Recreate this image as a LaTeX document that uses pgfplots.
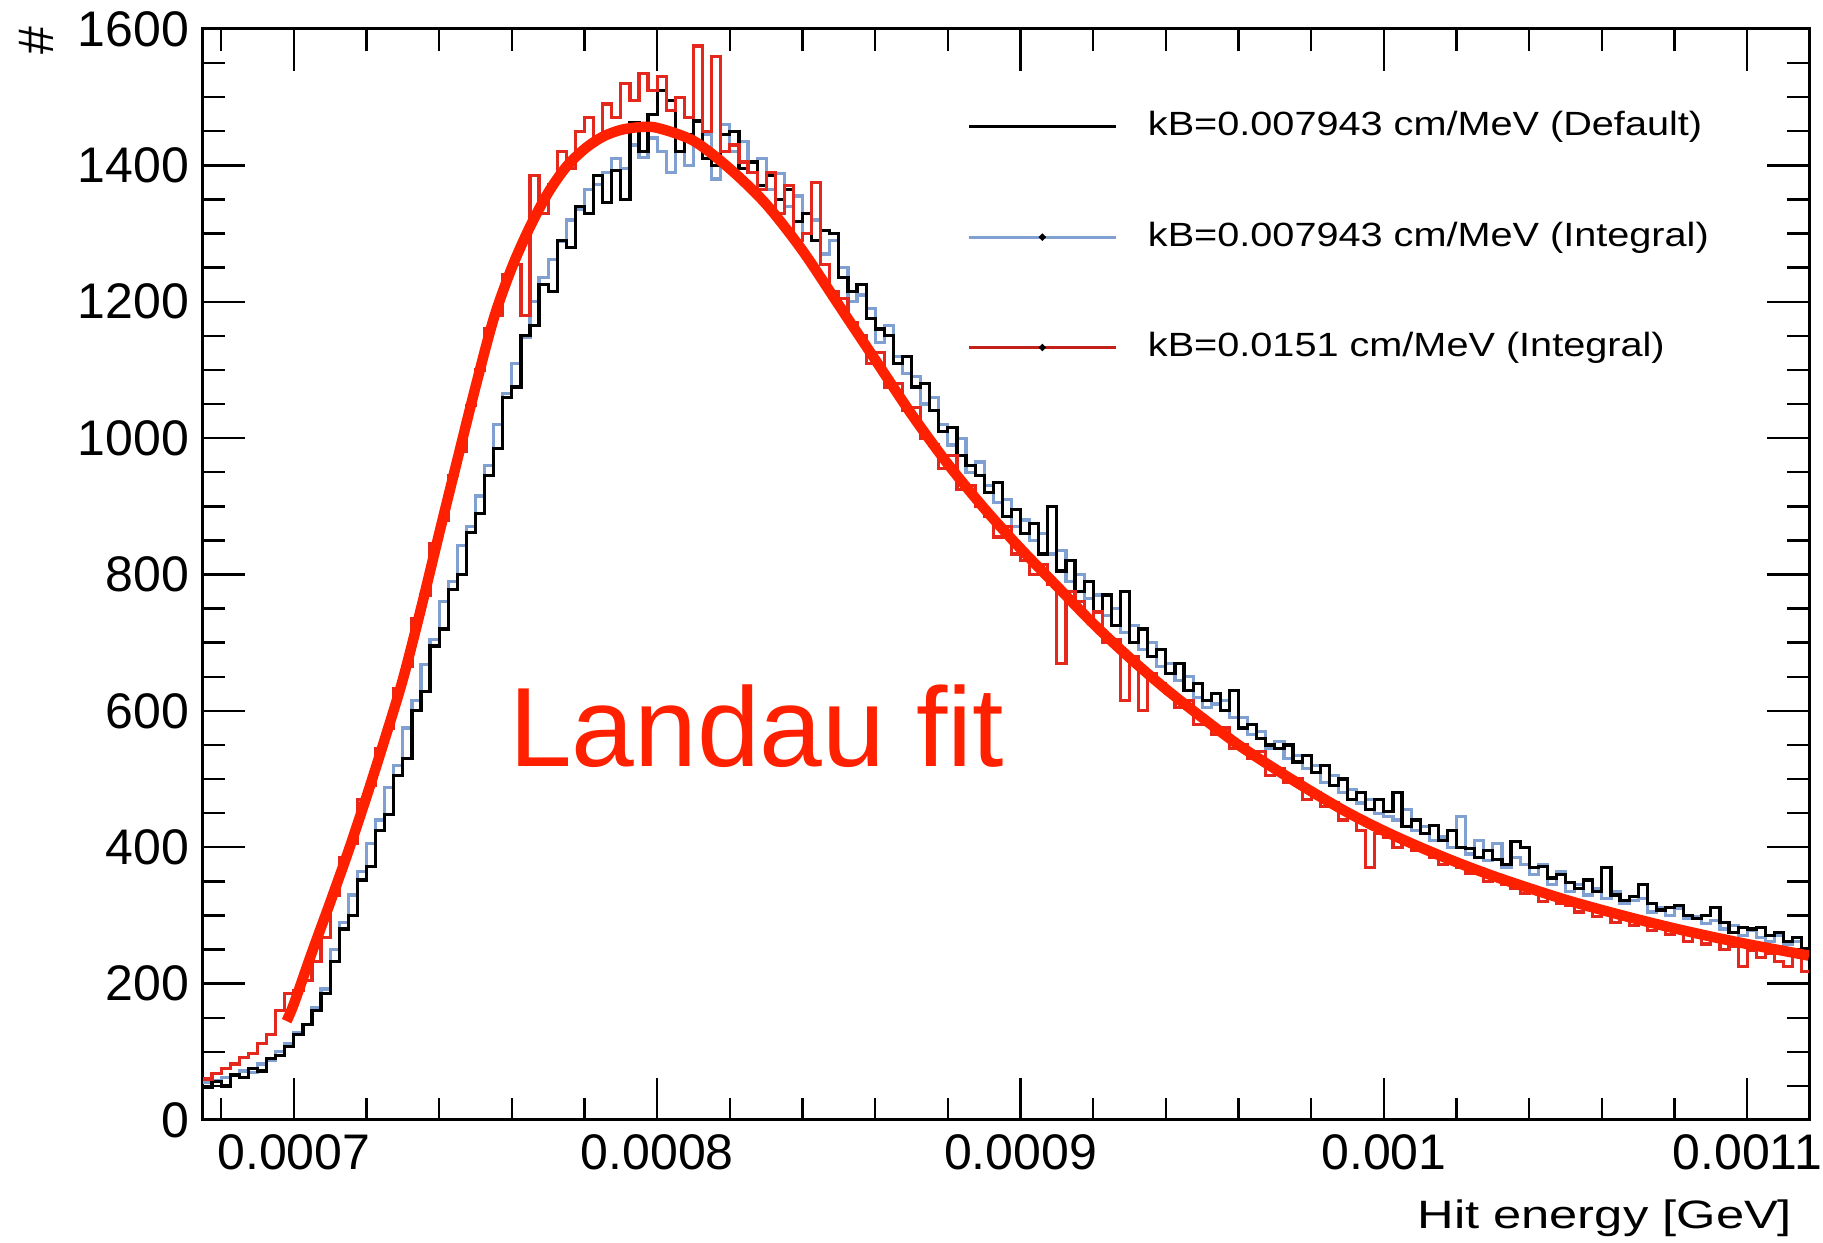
\documentclass[border=0pt]{standalone}
\usepackage{fontspec}
\setmainfont{Liberation Sans}
\usepackage{pgfplots}
\pgfplotsset{compat=1.18}
\usepackage{pgfplotstable}
\definecolor{blueh}{RGB}{128,160,210}
\definecolor{redh}{RGB}{228,40,30}
\definecolor{fitred}{RGB}{255,32,0}
\pgfplotsset{
  linelegend/.style={legend image code/.code={\draw[##1] (0pt,0pt) -- (36.6pt,0pt);}},
  dotlegend/.style={legend image code/.code={\draw[##1] (0pt,0pt) -- (36.6pt,0pt); \fill[black] (18.3pt,0pt) circle (0.45pt);}},
}

% e = hit energy in units of 1e-6 GeV (left bin edge); k = Default, b = Integral kB=0.007943, r = Integral kB=0.0151
\pgfplotstableread{
e k b r
675 48 55 60
677.5 56 58 68
680 50 62 75
682.5 66 65 82
685 62 72 92
687.5 75 70 98
690 72 82 112
692.5 90 88 125
695 95 100 160
697.5 108 112 185
700 125 128 190
702.5 140 140 205
705 160 165 232
707.5 185 192 268
710 232 250 330
712.5 280 290 385
715 300 330 405
717.5 352 365 470
720 372 405 490
722.5 425 440 545
725 448 488 575
727.5 505 520 632
730 530 575 665
732.5 600 615 735
735 628 668 770
737.5 695 705 845
740 720 760 880
742.5 778 790 945
745 800 842 980
747.5 862 870 1048
750 890 915 1100
752.5 945 960 1160
755 985 1020 1180
757.5 1060 1065 1240
760 1075 1110 1255
762.5 1150 1148 1180
765 1165 1200 1385
767.5 1225 1235 1330
770 1215 1262 1372
772.5 1290 1288 1420
775 1280 1320 1395
777.5 1340 1335 1450
780 1330 1365 1470
782.5 1385 1372 1440
785 1345 1390 1490
787.5 1392 1410 1470
790 1350 1395 1520
792.5 1462 1430 1495
795 1420 1412 1535
797.5 1475 1440 1510
800 1510 1420 1530
802.5 1495 1390 1480
805 1420 1445 1500
807.5 1445 1400 1470
810 1465 1430 1575
812.5 1410 1445 1450
815 1400 1380 1560
817.5 1445 1460 1420
820 1450 1420 1430
822.5 1395 1435 1405
825 1405 1390 1390
827.5 1370 1410 1365
830 1385 1365 1390
832.5 1350 1388 1330
835 1365 1340 1370
837.5 1318 1355 1290
840 1330 1300 1300
842.5 1290 1320 1375
845 1305 1270 1255
847.5 1300 1290 1215
850 1235 1250 1205
852.5 1215 1200 1170
855 1225 1210 1150
857.5 1175 1190 1110
860 1160 1140 1125
862.5 1150 1165 1075
865 1110 1120 1080
867.5 1120 1095 1040
870 1075 1090 1045
872.5 1080 1050 1000
875 1040 1060 990
877.5 1010 1020 955
880 1015 990 975
882.5 975 1000 925
885 960 950 930
887.5 945 965 900
890 920 930 885
892.5 935 905 855
895 885 910 870
897.5 895 870 830
900 860 880 820
902.5 875 850 800
905 830 860 815
907.5 900 830 785
910 805 835 670
912.5 820 790 775
915 775 800 760
917.5 790 765 735
920 745 770 745
922.5 770 740 700
925 725 750 705
927.5 775 715 615
930 700 725 680
932.5 720 690 600
935 680 700 655
937.5 690 665 640
940 655 670 625
942.5 670 645 605
945 630 650 615
947.5 640 620 580
950 615 605 580
952.5 625 610 565
955 600 615 575
957.5 630 590 545
960 575 590 550
962.5 580 565 530
965 560 570 540
967.5 550 545 505
970 545 555 515
972.5 550 530 495
975 525 535 500
977.5 535 515 470
980 510 520 480
982.5 520 495 460
985 490 505 465
987.5 500 480 440
990 470 485 450
992.5 480 465 425
995 455 470 370
997.5 470 450 420
1000 452 445 415
1002.5 480 440 400
1005 430 455 410
1007.5 440 425 395
1010 420 430 400
1012.5 432 410 385
1015 410 415 375
1017.5 425 400 380
1020 400 445 370
1022.5 398 390 362
1025 385 410 368
1027.5 395 380 350
1030 382 405 355
1032.5 375 370 345
1035 408 385 340
1037.5 400 375 332
1040 370 360 338
1042.5 372 375 320
1045 355 345 330
1047.5 360 365 318
1050 348 335 315
1052.5 340 345 305
1055 352 330 312
1057.5 335 340 298
1060 370 325 305
1062.5 330 335 290
1065 322 318 298
1067.5 328 322 285
1070 345 325 290
1072.5 318 305 278
1075 308 312 285
1077.5 312 300 272
1080 315 310 276
1082.5 300 295 262
1085 295 298 270
1087.5 300 288 258
1090 312 292 265
1092.5 290 280 250
1095 275 285 255
1097.5 282 270 225
1100 280 278 248
1102.5 282 268 238
1105 270 262 245
1107.5 275 270 232
1110 262 258 225
1112.5 268 262 240
1115 252 250 218
1117.5 252 250 218
}\histdata

\pgfplotstableread{
e f
698 145
700 170
705 246
710 319
715 394
720 474
725 558
730 646
735 750
740 860
745 968
750 1075
755 1175
760 1250
765 1310
770 1360
775 1398
780 1424
785 1442
790 1452
795 1456
800 1455
810 1436
820 1395
830 1343
840 1275
850 1195
860 1115
870 1035
880 962
890 897
900 838
910 783
920 728
930 678
940 632
950 590
960 550
970 515
980 482
990 451
1000 424
1010 400
1020 378
1030 358
1040 340
1050 323
1060 308
1070 294
1080 281
1090 269
1100 258
1110 248
1117 241
}\fitdata

\begin{document}
\begin{tikzpicture}
\begin{axis}[
  name=ax,
  scale only axis,
  width=401.5pt, height=272.75pt,
  xmin=675, xmax=1117, ymin=0, ymax=1600,
  axis line style={line width=0.75pt},
  tick style={black, line width=0.6pt},
  major tick length=10.5pt, minor tick length=5.5pt,
  xtick={700,800,900,1000,1100},
  xticklabels={0.0007,0.0008,0.0009,0.001,0.0011},
  minor xtick={680,720,740,760,780,820,840,860,880,920,940,960,980,1020,1040,1060,1080},
  ytick={0,200,400,600,800,1000,1200,1400,1600},
  minor y tick num=3,
  /pgf/number format/assume math mode=true,
  /pgf/number format/1000 sep={},
  tick label style={font=\fontsize{12.5}{14}\selectfont},
  xlabel={\scalebox{1.28}[1]{Hit energy [GeV]}},
  xlabel style={font=\fontsize{9.9}{12}\selectfont, at={(axis description cs:0.99,-0.099)}, anchor=base east, inner sep=0pt},
  ylabel={\#},
  ylabel style={font=\fontsize{12.5}{14}\selectfont, at={(axis description cs:-0.104,0.989)}, anchor=center, inner sep=0pt},
  legend cell align=left,
  linelegend,
  legend style={draw=none, fill=none, at={(axis description cs:0.4757,0.925)}, anchor=north west,
    font=\fontsize{8.4}{9.8}\selectfont, row sep=20pt, inner sep=0pt,
    nodes={inner sep=0pt},
    /tikz/every odd column/.append style={column sep=7.75pt}},
]
\addplot[blueh, line width=0.8pt, const plot, forget plot] table[x=e, y=b]{\histdata};
\addplot[black, line width=0.8pt, const plot, forget plot] table[x=e, y=k]{\histdata};
\addplot[redh, line width=0.8pt, const plot, forget plot] table[x=e, y=r]{\histdata};
\addplot[fitred, line width=2.6pt, smooth, forget plot] table[x=e, y=f]{\fitdata};
\addlegendimage{black, line width=0.7pt}
\addlegendentry{\scalebox{1.18}[1]{kB=0.007943 cm/MeV (Default)}}
\addlegendimage{blueh, line width=0.7pt, dotlegend}
\addlegendentry{\scalebox{1.18}[1]{kB=0.007943 cm/MeV (Integral)}}
\addlegendimage{redh!85!black, line width=0.7pt, dotlegend}
\addlegendentry{\scalebox{1.18}[1]{kB=0.0151 cm/MeV (Integral)}}
\node[anchor=base west, text=fitred, font=\fontsize{28.2}{30}\selectfont, inner sep=0pt] at (axis cs:759,518) {Landau fit};
\end{axis}
\pgfresetboundingbox
\path ([shift={(-50.75pt,-30.75pt)}]ax.south west) rectangle ([shift={(3.5pt,7.25pt)}]ax.north east);
\end{tikzpicture}
\end{document}
